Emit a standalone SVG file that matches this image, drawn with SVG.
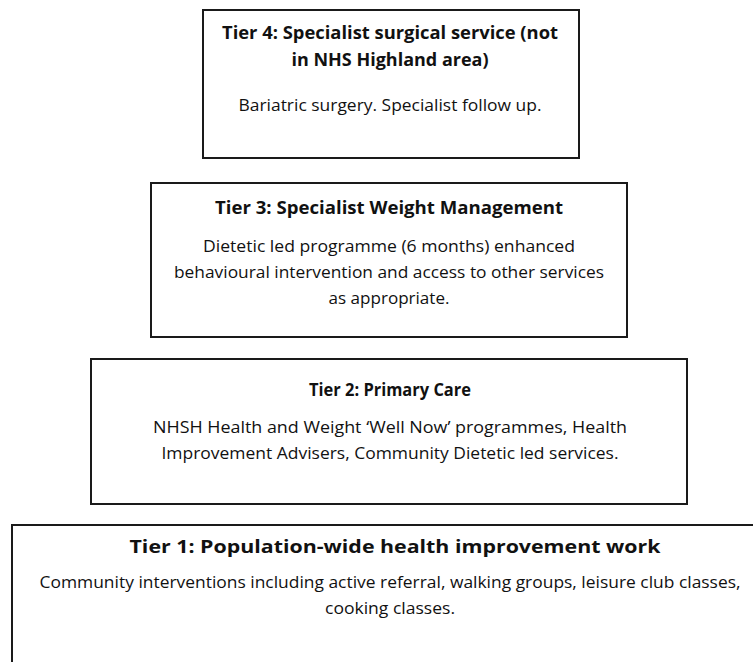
<svg xmlns="http://www.w3.org/2000/svg" width="753" height="662" viewBox="0 0 753 662">
<style>
.box{fill:#fff;stroke:#1a1a1a;stroke-width:2}
.t{font-family:"Open Sans","Noto Sans","Liberation Sans",sans-serif;font-weight:bold;font-size:17.5px;fill:#111;text-anchor:middle}
.b{font-family:"Open Sans","Noto Sans","Liberation Sans",sans-serif;font-size:15.5px;fill:#111;text-anchor:middle}
</style>
<rect width="753" height="662" fill="#fff"/>
<g id="tier4">
<rect class="box" x="203" y="10" width="376" height="148"/>
<text class="t" x="390" y="39" textLength="336" lengthAdjust="spacingAndGlyphs">Tier 4: Specialist surgical service (not</text>
<text class="t" x="390" y="66" textLength="197" lengthAdjust="spacingAndGlyphs">in NHS Highland area)</text>
<text class="b" x="390" y="111" textLength="303" lengthAdjust="spacingAndGlyphs">Bariatric surgery. Specialist follow up.</text>
</g>
<g id="tier3">
<rect class="box" x="151" y="183" width="476" height="154"/>
<text class="t" x="389" y="214" textLength="348" lengthAdjust="spacingAndGlyphs">Tier 3: Specialist Weight Management</text>
<text class="b" x="389" y="252" textLength="372" lengthAdjust="spacingAndGlyphs">Dietetic led programme (6 months) enhanced</text>
<text class="b" x="389" y="278" textLength="430" lengthAdjust="spacingAndGlyphs">behavioural intervention and access to other services</text>
<text class="b" x="389" y="304" textLength="121" lengthAdjust="spacingAndGlyphs">as appropriate.</text>
</g>
<g id="tier2">
<rect class="box" x="91" y="359" width="596" height="145"/>
<text class="t" x="390" y="396" textLength="162" lengthAdjust="spacingAndGlyphs">Tier 2: Primary Care</text>
<text class="b" x="390" y="433" textLength="474" lengthAdjust="spacingAndGlyphs">NHSH Health and Weight ‘Well Now’ programmes, Health</text>
<text class="b" x="390" y="459" textLength="457" lengthAdjust="spacingAndGlyphs">Improvement Advisers, Community Dietetic led services.</text>
</g>
<g id="tier1">
<rect class="box" x="12" y="525" width="760" height="160"/>
<text class="t" x="395" y="553" textLength="531" lengthAdjust="spacingAndGlyphs">Tier 1: Population-wide health improvement work</text>
<text class="b" x="390" y="588" textLength="701" lengthAdjust="spacingAndGlyphs">Community interventions including active referral, walking groups, leisure club classes,</text>
<text class="b" x="390" y="614" textLength="130" lengthAdjust="spacingAndGlyphs">cooking classes.</text>
</g>
<g id="connectors"/>
</svg>
